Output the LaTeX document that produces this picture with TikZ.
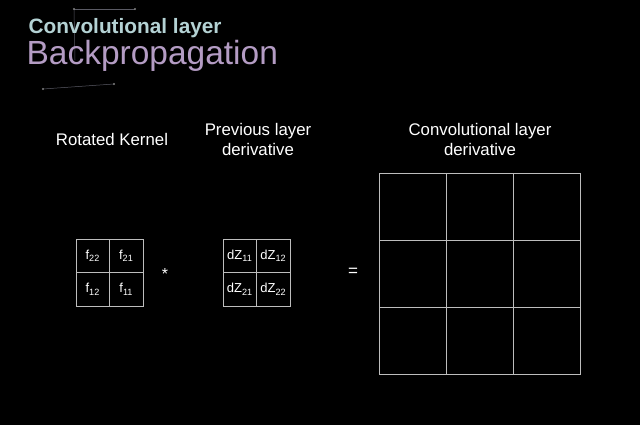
\documentclass[tikz,border=0pt]{standalone}
\usepackage{fontspec}
\setmainfont{Liberation Sans}
\usepackage{xcolor}
\definecolor{gridgray}{HTML}{BDBDBD}
\definecolor{titlecyan}{HTML}{B4D2D4}
\definecolor{titlelav}{HTML}{B49CC4}
\definecolor{starline}{HTML}{5A5A64}
\begin{document}
\begin{tikzpicture}[
					x=1pt,y=-1pt,
					cell/.style={draw=gridgray,line width=0.8pt,minimum size=33.5pt,inner sep=0pt,font=\fontsize{13}{15}\selectfont,text=white},
					bigcell/.style={draw=gridgray,line width=0.8pt,minimum size=67pt,inner sep=0pt},
					label/.style={text=white,align=center,font=\fontsize{16.8}{20}\selectfont},
					sline/.style={draw=starline,line width=0.5pt}
					]
					\fill[black] (0,0) rectangle (640,425);
					\useasboundingbox (0,0) rectangle (640,425);
					% faint decoration behind the title
					\coordinate (s1) at (74,9);
					\coordinate (s2) at (135,9);
					\coordinate (s3) at (75,60);
					\coordinate (s4) at (43,89);
					\coordinate (s5) at (114,84);
					\draw[sline] (s1) -- (s2);
					\draw[sline] (s1) -- (s3);
					\draw[sline] (s4) -- (s5);
					\foreach \s in {s1,s2,s4,s5}{
						\fill[gray] (\s) circle (1.2pt);
					}
					\node[anchor=west,text=titlecyan,font=\fontsize{20.8}{24}\selectfont\bfseries] (sub) at (25,28) {Convolutional layer};
					\node[anchor=west,text=titlelav,font=\fontsize{33.5}{38}\selectfont] (title) at (23,56) {Backpropagation};
					% headings
					\node[label] (hk) at (112,139) {Rotated Kernel};
					\node[label] (hd) at (258,139) {Previous layer\\derivative};
					\node[label] (hc) at (480,139) {Convolutional layer\\derivative};
					% rotated kernel
					\foreach \r/\c/\t in {1/1/22,1/2/21,2/1/12,2/2/11}{
						\node[cell] (k\r\c) at ({59.25+33.5*\c},{222.25+33.5*\r}) {f\textsubscript{\t}};
					}
					\node[text=white,font=\fontsize{16}{18}\selectfont] (op1) at (165,274) {*};
					% previous layer derivative
					\foreach \r/\c in {1/1,1/2,2/1,2/2}{
						\node[cell] (d\r\c) at ({206.25+33.5*\c},{222.25+33.5*\r}) {dZ\textsubscript{\r\c}};
					}
					\node[text=white,font=\fontsize{17}{18}\selectfont] (op2) at (353,272) {=};
					% output grid
					\foreach \r in {1,2,3}{
						\foreach \c in {1,2,3}{
							\node[bigcell] (o\r\c) at ({345.5+67*\c},{139.5+67*\r}) {};
						}
					}
				\end{tikzpicture}
\end{document}
